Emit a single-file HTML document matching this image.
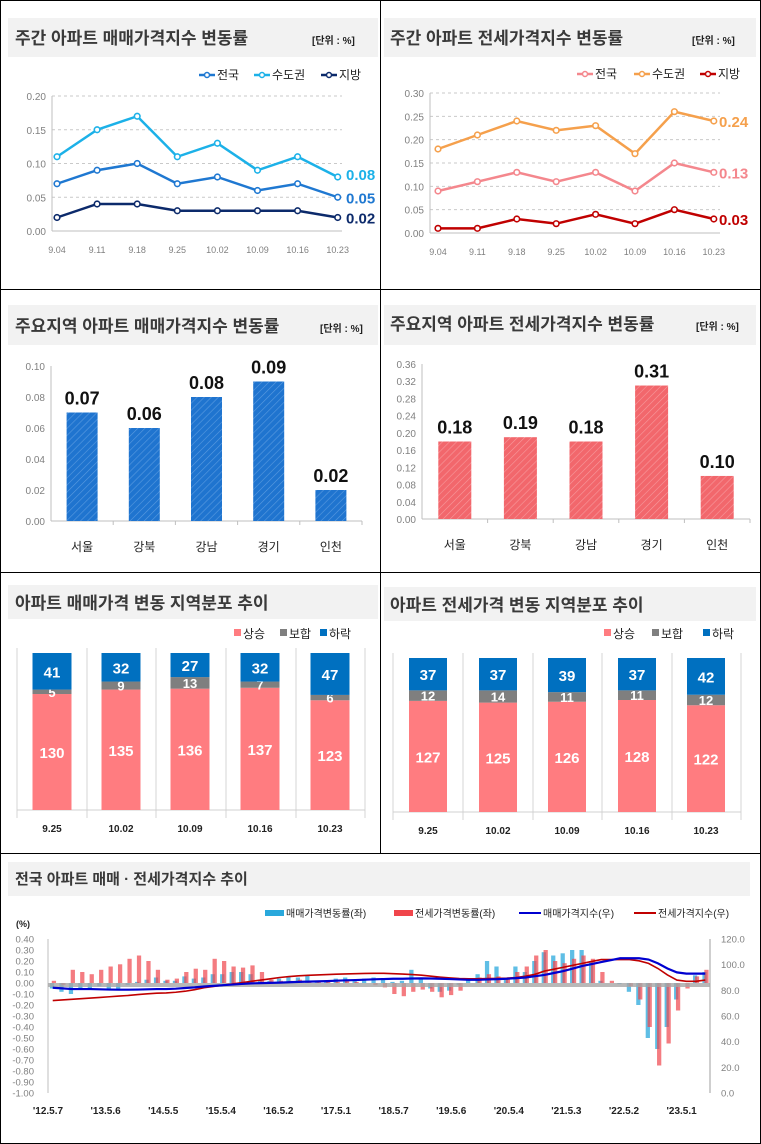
<!DOCTYPE html>
<html><head><meta charset="utf-8">
<style>
html,body{margin:0;padding:0;background:#fff;}
svg{display:block;font-family:"Liberation Sans","Noto Sans CJK KR",sans-serif;}
.ttl{font-size:17px;font-weight:bold;fill:#3a3a3a;}
.unit{font-size:10px;font-weight:bold;fill:#222;}
.tick{font-size:10px;fill:#808080;}
.cat{font-size:12px;fill:#222;}
.lg{font-size:12px;fill:#222;}
.num{font-family:"Liberation Sans Narrow","Liberation Sans",sans-serif;font-weight:bold;}
</style></head>
<body>
<svg id="root" width="761" height="1144" viewBox="0 0 761 1144" xmlns="http://www.w3.org/2000/svg">
<defs>
<pattern id="hatchBlue" patternUnits="userSpaceOnUse" width="5" height="5" patternTransform="rotate(45)">
<rect width="5" height="5" fill="#1f74cf"/><line x1="0" y1="0" x2="0" y2="5" stroke="#5a9be0" stroke-width="1.2"/></pattern>
<pattern id="hatchRed" patternUnits="userSpaceOnUse" width="5" height="5" patternTransform="rotate(45)">
<rect width="5" height="5" fill="#f2676c"/><line x1="0" y1="0" x2="0" y2="5" stroke="#f79a9d" stroke-width="1.2"/></pattern>
</defs>
<rect x="0.5" y="0.5" width="760" height="1143" fill="#fff" stroke="#000"/>
<line x1="380.5" y1="0" x2="380.5" y2="853" stroke="#000"/>
<line x1="0" y1="289.5" x2="761" y2="289.5" stroke="#000"/>
<line x1="0" y1="572.5" x2="761" y2="572.5" stroke="#000"/>
<line x1="0" y1="853.5" x2="761" y2="853.5" stroke="#000"/>

<g>
<rect x="8" y="18" width="370" height="39" fill="#f2f2f2"/>
<text x="15" y="44" class="ttl">주간 아파트 매매가격지수 변동률</text>
<text x="312" y="44" class="unit">[단위 : %]</text>
</g>
<g>
<rect x="384" y="18" width="372" height="39" fill="#f2f2f2"/>
<text x="390" y="44" class="ttl">주간 아파트 전세가격지수 변동률</text>
<text x="692" y="44" class="unit">[단위 : %]</text>
</g>
<g>
<rect x="8" y="305" width="370" height="40" fill="#f2f2f2"/>
<text x="15" y="332" class="ttl">주요지역 아파트 매매가격지수 변동률</text>
<text x="320" y="332" class="unit">[단위 : %]</text>
</g>
<g>
<rect x="384" y="305" width="372" height="40" fill="#f2f2f2"/>
<text x="390" y="330" class="ttl">주요지역 아파트 전세가격지수 변동률</text>
<text x="696" y="330" class="unit">[단위 : %]</text>
</g>
<g>
<rect x="8" y="585" width="370" height="34" fill="#f2f2f2"/>
<text x="15" y="609" class="ttl">아파트 매매가격 변동 지역분포 추이</text>
</g>
<g>
<rect x="384" y="587" width="372" height="34" fill="#f2f2f2"/>
<text x="390" y="611" class="ttl">아파트 전세가격 변동 지역분포 추이</text>
</g>
<g>
<rect x="8" y="862" width="742" height="34" fill="#f2f2f2"/>
<text x="15" y="884" class="ttl" style="font-size:15px">전국 아파트 매매 · 전세가격지수 추이</text>
</g>
<g id="charts"></g>
</svg>
<script>
// ---- weekly line charts ----
const weekLabels = ['9.04','9.11','9.18','9.25','10.02','10.09','10.16','10.23'];
const saleNational = [0.07,0.09,0.10,0.07,0.08,0.06,0.07,0.05];
const saleCapital = [0.11,0.15,0.17,0.11,0.13,0.09,0.11,0.08];
const saleLocal = [0.02,0.04,0.04,0.03,0.03,0.03,0.03,0.02];
const saleTicks = [0,0.05,0.10,0.15,0.20];
const jeonseNational = [0.09,0.11,0.13,0.11,0.13,0.09,0.15,0.13];
const jeonseCapital = [0.18,0.21,0.24,0.22,0.23,0.17,0.26,0.24];
const jeonseLocal = [0.01,0.01,0.03,0.02,0.04,0.02,0.05,0.03];
const jeonseTicks = [0,0.05,0.10,0.15,0.20,0.25,0.30];
const seriesNames = ['전국','수도권','지방'];
// ---- region bars ----
const regions = ['서울','강북','강남','경기','인천'];
const regionSale = [0.07,0.06,0.08,0.09,0.02];
const regionSaleTicks = [0,0.02,0.04,0.06,0.08,0.10];
const regionJeonse = [0.18,0.19,0.18,0.31,0.10];
const regionJeonseTicks = [0,0.04,0.08,0.12,0.16,0.20,0.24,0.28,0.32,0.36];
// ---- distribution stacks ----
const distWeeks = ['9.25','10.02','10.09','10.16','10.23'];
const saleUp = [130,135,136,137,123];
const saleFlat = [5,9,13,7,6];
const saleDown = [41,32,27,32,47];
const jeonseUp = [127,125,126,128,122];
const jeonseFlat = [12,14,11,11,12];
const jeonseDown = [37,37,39,37,42];
const distNames = ['상승','보합','하락'];
// ---- long-term (bi-monthly from May 2012) ----
const longSaleChange = [-0.05,-0.08,-0.10,-0.06,-0.05,-0.03,-0.05,-0.06,-0.02,0.01,0.03,0.05,0.02,0.02,0.06,0.04,0.05,0.08,0.08,0.10,0.10,0.08,0.03,0.02,0.04,0.06,0.05,0.07,0.02,0.02,0.04,0.05,0.03,0.04,0.05,0.04,0.01,0.02,0.12,0.04,-0.05,-0.08,-0.07,-0.02,0.03,0.08,0.20,0.15,0.05,0.15,0.10,0.20,0.28,0.25,0.27,0.30,0.30,0.20,0.02,0.00,-0.01,-0.08,-0.20,-0.50,-0.60,-0.40,-0.15,0.00,0.07,0.10];
const longJeonseChange = [0.02,-0.02,0.12,0.10,0.08,0.12,0.15,0.17,0.22,0.25,0.20,0.12,0.03,0.04,0.10,0.13,0.12,0.22,0.20,0.15,0.14,0.16,0.10,0.03,0.02,0.02,0.03,0.02,0.01,0.01,0.01,0.02,0.01,0.00,-0.02,-0.04,-0.10,-0.12,-0.08,-0.06,-0.08,-0.13,-0.11,-0.07,0.00,0.05,0.08,0.06,0.04,0.10,0.15,0.25,0.30,0.20,0.18,0.22,0.25,0.22,0.10,0.02,0.00,-0.03,-0.15,-0.40,-0.75,-0.55,-0.25,-0.05,0.06,0.12];
const longSaleIndex = [82,81.5,81,81,81,80.8,80.6,80.5,80.5,80.6,80.8,81,81,81.3,81.8,82.3,83,83.5,84,84.5,85,85.4,85.6,85.8,86,86.3,86.6,86.8,87,87.2,87.5,87.8,88,88.3,88.6,88.8,89,89,89.2,89.3,89.2,89,88.8,88.5,88.2,88.2,88.5,88.7,89,89.5,90,91,92,93.5,95,97,99,100.5,102,103.5,105,105,105,104,101,97,94,93,93,93];
const longJeonseIndex = [72,72.5,73,73.5,74,74.5,75,75.5,76,76.7,77.3,77.8,78,78.5,79.3,80.5,82,83,84,85,86,87,88,89,90,90.7,91.3,91.7,92,92.3,92.6,92.8,93,93.2,93.3,93.3,93,92.7,92.3,91.8,91,90.3,89.7,89.2,89,89,89.2,89.3,89.5,90,91,92.5,95,96.5,98,99.5,101,102.5,104,104,104,104,103,101,97,92,88,87,87,88];
const longLabels = ["'12.5.7","'13.5.6","'14.5.5","'15.5.4","'16.5.2","'17.5.1","'18.5.7","'19.5.6","'20.5.4","'21.5.3","'22.5.2","'23.5.1"];
const leftTicks = [0.4,0.3,0.2,0.1,0,-0.1,-0.2,-0.3,-0.4,-0.5,-0.6,-0.7,-0.8,-0.9,-1.0];
const rightTicks = [0,20,40,60,80,100,120];

const NS='http://www.w3.org/2000/svg';
const root=document.getElementById('charts');
function mk(tag,attrs,parent,txt){const e=document.createElementNS(NS,tag);for(const k in attrs)e.setAttribute(k,attrs[k]);if(txt!==undefined)e.textContent=txt;(parent||root).appendChild(e);return e;}

function lineChart(cfg){
  const g=mk('g',{});
  
  
  const ys=v=>cfg.y0-(v/cfg.max)*(cfg.y0-cfg.y1);
  const xs=i=>cfg.xp0+i*cfg.step;
  cfg.ticks.forEach(t=>{
    if(t>0){const l=mk('line',{x1:cfg.ax,x2:cfg.ax2,y1:ys(t),y2:ys(t),stroke:'#c9c9c9','stroke-dasharray':'3,3'},g);
    
    }
    const tt=mk('text',{x:cfg.ax-6,y:ys(t)+4,'text-anchor':'end',class:'tick'},g,t.toFixed(2));
    
    
  });
  const ax=mk('line',{x1:cfg.ax,x2:cfg.ax,y1:cfg.y1,y2:cfg.y0,stroke:'#bfbfbf'},g);
  
  
  const bx=mk('line',{x1:cfg.ax,x2:cfg.ax2,y1:cfg.y0,y2:cfg.y0,stroke:'#bfbfbf'},g);
  
  
  weekLabels.forEach((w,i)=>{
    const t=mk('text',{x:xs(i),y:cfg.y0+22,'text-anchor':'middle',class:'tick',style:'font-size:9px'},g,w);
    
    
  });
  cfg.series.forEach((s,si)=>{
    const pts=s.map((v,i)=>xs(i)+','+ys(v)).join(' ');
    const pl=mk('polyline',{points:pts,fill:'none',stroke:cfg.colors[si],'stroke-width':2.5},g);
    
    
    s.forEach((v,i)=>{
      const c=mk('circle',{cx:xs(i),cy:ys(v),r:2.8,fill:'#fff',stroke:cfg.colors[si],'stroke-width':1.6},g);
      
      
    });
    const last=s[s.length-1];
    const el=mk('text',{x:cfg.endX,y:ys(last)+cfg.endDy[si],fill:cfg.colors[si],class:'num',style:'font-size:15px'},g,last.toFixed(2));
    
    
    const lx=cfg.legX[si];
    const ll=mk('line',{x1:lx,x2:lx+16,y1:cfg.legY-4,y2:cfg.legY-4,stroke:cfg.colors[si],'stroke-width':2.5},g);
    
    
    const lc=mk('circle',{cx:lx+8,cy:cfg.legY-4,r:2.5,fill:'#fff',stroke:cfg.colors[si],'stroke-width':1.5},g);
    
    
    const lt=mk('text',{x:lx+18,y:cfg.legY,class:'lg'},g,seriesNames[si]);
    
    
  });
}
lineChart({name:'weekly-sale-chart',ax:52,ax2:342,y0:231,y1:96,max:0.20,ticks:saleTicks,xp0:57,step:40.1,
  series:[saleNational,saleCapital,saleLocal],colors:['#1f78d1','#1cb1e8','#0c2a6b'],endX:346,endDy:[6,3,6],legX:[199,254,321],legY:79});
lineChart({name:'weekly-jeonse-chart',ax:430,ax2:720,y0:233,y1:93,max:0.30,ticks:jeonseTicks,xp0:438,step:39.4,
  series:[jeonseNational,jeonseCapital,jeonseLocal],colors:['#f4878d','#f5a04c','#c00000'],endX:719,endDy:[6,6,6],legX:[577,634,700],legY:78});

function barChart(cfg){
  const g=mk('g',{});
  
  
  const ys=v=>cfg.y0-(v/cfg.max)*(cfg.y0-cfg.y1);
  const bw=(cfg.ax2-cfg.ax)/regions.length;
  cfg.ticks.forEach(t=>{
    const tt=mk('text',{x:cfg.ax-6,y:ys(t)+4,'text-anchor':'end',class:'tick'},g,t.toFixed(2));
    
    
  });
  const ax=mk('line',{x1:cfg.ax,x2:cfg.ax,y1:cfg.y1,y2:cfg.y0,stroke:'#bfbfbf'},g);
  
  
  const bx=mk('line',{x1:cfg.ax,x2:cfg.ax2,y1:cfg.y0,y2:cfg.y0,stroke:'#bfbfbf'},g);
  
  
  regions.forEach((r,i)=>{
    const cx=cfg.ax+bw*(i+0.5);
    const v=cfg.values[i];
    const b=mk('rect',{x:cx-cfg.w/2,y:ys(v),width:cfg.w,height:cfg.y0-ys(v),fill:cfg.fill},g);
    
    
    const vl=mk('text',{x:cx,y:ys(v)-8,'text-anchor':'middle',class:'num',style:'font-size:18px',fill:'#111'},g,v.toFixed(2));
    
    
    const cl=mk('text',{x:cx,y:cfg.y0+30,'text-anchor':'middle',class:'cat'},g,r);
    
    
    const tk=mk('line',{x1:cfg.ax+bw*(i+1),x2:cfg.ax+bw*(i+1),y1:cfg.y0,y2:cfg.y0+4,stroke:'#bfbfbf'},g);
    
    
  });
}
barChart({name:'region-sale-chart',ax:51,ax2:362,y0:521,y1:366,max:0.10,ticks:regionSaleTicks,values:regionSale,w:31,fill:'url(#hatchBlue)'});
barChart({name:'region-jeonse-chart',ax:422,ax2:750,y0:519,y1:364,max:0.36,ticks:regionJeonseTicks,values:regionJeonse,w:33,fill:'url(#hatchRed)'});

function stackChart(cfg){
  const g=mk('g',{});
  
  
  const colors=['#ff7c80','#7f7f7f','#0070c0'];
  const sc=(cfg.y0-cfg.y1)/176;
  cfg.seps.forEach(x=>{
    const s=mk('line',{x1:x,x2:x,y1:cfg.y1-5,y2:cfg.y0+8,stroke:'#e3e3e3','stroke-width':1.5},g);
    
    
  });
  const bl=mk('line',{x1:cfg.seps[0],x2:cfg.seps[cfg.seps.length-1],y1:cfg.y0,y2:cfg.y0,stroke:'#d0d0d0'},g);
  
  
  distWeeks.forEach((w,i)=>{
    const cx=cfg.cx[i];
    let base=cfg.y0;
    [cfg.up[i],cfg.flat[i],cfg.down[i]].forEach((v,k)=>{
      const h=v*sc;
      const r=mk('rect',{x:cx-cfg.w/2,y:base-h,width:cfg.w,height:h,fill:colors[k]},g);
      
      
      const t=mk('text',{x:cx,y:base-h/2+(k===1?5:6),'text-anchor':'middle',fill:'#fff',class:'num',style:'font-size:'+(k===1?13:15)+'px'},g,v);
      
      
      base-=h;
    });
    const xl=mk('text',{x:cx,y:cfg.y0+22,'text-anchor':'middle',style:'font-size:10px;font-weight:bold',fill:'#222'},g,w);
    
    
  });
  distNames.forEach((n,k)=>{
    const sq=mk('rect',{x:cfg.legX[k],y:cfg.legY-9,width:7,height:7,fill:colors[k]},g);
    
    
    const lt=mk('text',{x:cfg.legX[k]+9,y:cfg.legY,class:'lg'},g,n);
    
    
  });
}
stackChart({name:'sale-distribution-chart',y0:810,y1:653,cx:[52,121,190,260,330],w:39,seps:[17,87,156,226,296,365],
  up:saleUp,flat:saleFlat,down:saleDown,legX:[234,280,320],legY:638});
stackChart({name:'jeonse-distribution-chart',y0:812,y1:658,cx:[428,498,567,637,706],w:38,seps:[393,463,533,602,672,741],
  up:jeonseUp,flat:jeonseFlat,down:jeonseDown,legX:[604,652,703],legY:638});

(function(){
  const g=mk('g',{});
  
  
  const X0=48,X1=710,Ytop=939,Ybot=1093;
  const yl=v=>Ytop+(0.4-v)*110;
  const yr=v=>Ybot-v*(Ybot-Ytop)/120;
  const n=longSaleChange.length;
  const step=(X1-X0)/n;
  const xs=i=>X0+step*(i+0.5);
  leftTicks.forEach(t=>{
    const e=mk('text',{x:34,y:yl(t)+3.5,'text-anchor':'end',class:'tick',style:'font-size:9.5px'},g,t.toFixed(2));
    
    
  });
  rightTicks.forEach(t=>{
    const e=mk('text',{x:721,y:yr(t)+3.5,class:'tick',style:'font-size:9.5px'},g,t.toFixed(1));
    
    
  });
  const u=mk('text',{x:16,y:927,style:'font-size:9px;font-weight:bold',fill:'#222'},g,'(%)');
  
  
  const la=mk('line',{x1:X0,x2:X0,y1:Ytop,y2:Ybot,stroke:'#bfbfbf'},g);
  
  
  const ra=mk('line',{x1:X1,x2:X1,y1:Ytop,y2:Ybot,stroke:'#bfbfbf','stroke-width':1.5},g);
  
  
  longSaleChange.forEach((v,i)=>{
    const y=yl(v),z=yl(0);
    const b=mk('rect',{x:xs(i)-step*0.3,y:Math.min(y,z),width:step*0.45,height:Math.abs(y-z),fill:'#29a8dc',opacity:0.75},g);
    
    
  });
  longJeonseChange.forEach((v,i)=>{
    const y=yl(v),z=yl(0);
    const b=mk('rect',{x:xs(i)-step*0.1,y:Math.min(y,z),width:step*0.45,height:Math.abs(y-z),fill:'#f0454b',opacity:0.7},g);
    
    
  });
  const zb=mk('rect',{x:X0,y:yl(0),width:X1-X0,height:4,fill:'#a6a6a6',opacity:0.8},g);
  
  
  const jl=mk('polyline',{points:longJeonseIndex.map((v,i)=>xs(i)+','+yr(v)).join(' '),fill:'none',stroke:'#c00000','stroke-width':1.6},g);
  
  
  const sl=mk('polyline',{points:longSaleIndex.map((v,i)=>xs(i)+','+yr(v)).join(' '),fill:'none',stroke:'#0000d0','stroke-width':2.2},g);
  
  
  longLabels.forEach((l,i)=>{
    const e=mk('text',{x:48+i*57.6,y:1114,'text-anchor':'middle',style:'font-size:10px;font-weight:bold',fill:'#222'},g,l);
    
    
  });
  const legend=[['rect','#29a8dc',265,'매매가격변동률(좌)'],['rect','#f0454b',394,'전세가격변동률(좌)'],['line','#0000d0',519,'매매가격지수(우)'],['line','#c00000',634,'전세가격지수(우)']];
  legend.forEach(L=>{
    let s;
    if(L[0]==='rect') s=mk('rect',{x:L[2],y:910,width:19,height:6,fill:L[1]},g);
    else s=mk('line',{x1:L[2],x2:L[2]+22,y1:913,y2:913,stroke:L[1],'stroke-width':2},g);
    
    
    const t=mk('text',{x:L[2]+(L[0]==='rect'?21:24),y:917,style:'font-size:10px',fill:'#222'},g,L[3]);
    
    
  });
})();
</script>
</body></html>
